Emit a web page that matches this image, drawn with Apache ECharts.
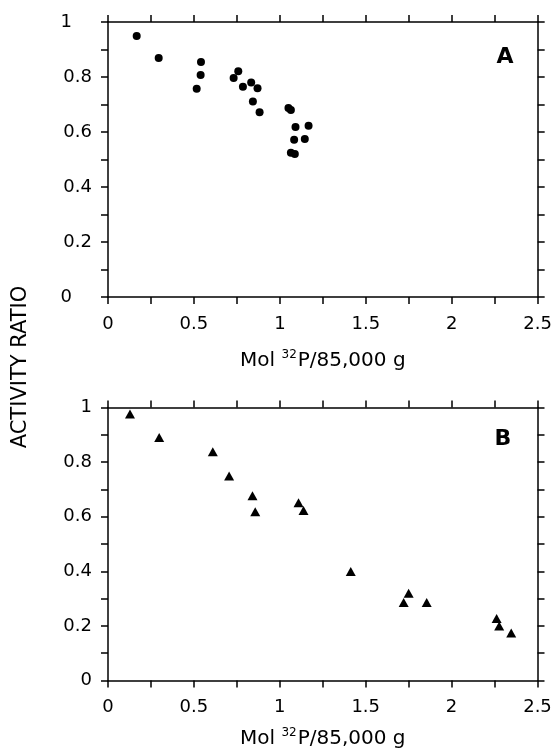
<!DOCTYPE html>
<html>
<head>
<meta charset="utf-8">
<title>Activity ratio vs Mol 32P</title>
<script src="https://cdn.jsdelivr.net/npm/echarts@6/dist/echarts.min.js"></script>
<style>
  html, body { margin: 0; padding: 0; background: #fff; }
  #main { width: 555px; height: 750px; }
</style>
</head>
<body>
<div id="main"></div>
<script>
// panel A (circles)
var circleX = [0.167, 0.295, 0.541, 0.539, 0.516, 0.758, 0.731, 0.785, 0.833, 0.870,
               0.843, 0.882, 1.050, 1.064, 1.091, 1.167, 1.083, 1.145, 1.064, 1.087];
var circleY = [0.949, 0.869, 0.855, 0.807, 0.757, 0.821, 0.796, 0.765, 0.780, 0.759,
               0.711, 0.672, 0.687, 0.680, 0.618, 0.623, 0.572, 0.575, 0.525, 0.520];
// panel B (triangles)
var triX = [0.128, 0.298, 0.610, 0.705, 0.841, 0.857, 1.109, 1.138, 1.413, 1.750,
            1.721, 1.855, 2.262, 2.277, 2.347];
var triY = [0.976, 0.890, 0.838, 0.749, 0.677, 0.618, 0.651, 0.623, 0.399, 0.320,
            0.286, 0.286, 0.227, 0.200, 0.174];

var xTicks = [0, 0.5, 1, 1.5, 2, 2.5];
var yTicks = [0, 0.2, 0.4, 0.6, 0.8, 1];
var panelLetters = ['A', 'B'];
var xTitle = ['Mol ', '32', 'P/85,000 g'];
var yTitle = 'ACTIVITY RATIO';

var FONT = 'DejaVu Sans';
var INK = '#000';

function pairs(xs, ys) {
    var out = [];
    for (var i = 0; i < xs.length; i++) out.push([xs[i], ys[i]]);
    return out;
}

var lineStyle = { color: INK, width: 1.5 };

function bottomAxis(grid, gap) {
    return {
        type: 'value', gridIndex: grid, position: 'bottom',
        min: xTicks[0], max: xTicks[xTicks.length - 1], interval: 0.5,
        axisLine: { show: true, onZero: false, lineStyle: lineStyle },
        axisTick: { show: true, inside: false, length: 7, lineStyle: lineStyle },
        minorTick: { show: true, splitNumber: 2, length: 7, lineStyle: lineStyle },
        splitLine: { show: false },
        axisLabel: { color: INK, fontFamily: FONT, fontSize: 18, margin: 18 },
        name: '{n|' + xTitle[0] + '}{s|' + xTitle[1] + '}{n|' + xTitle[2] + '}',
        nameLocation: 'middle', nameGap: gap,
        nameTextStyle: {
            rich: {
                n: { fontFamily: FONT, fontSize: 20, color: INK, verticalAlign: 'bottom', lineHeight: 22 },
                s: { fontFamily: FONT, fontSize: 12, color: INK, verticalAlign: 'top', lineHeight: 22, padding: [0, 1, 9, 0] }
            }
        }
    };
}

function topAxis(grid) {
    return {
        type: 'value', gridIndex: grid, position: 'top',
        min: xTicks[0], max: xTicks[xTicks.length - 1], interval: 0.5,
        axisLine: { show: true, onZero: false, lineStyle: lineStyle },
        axisTick: { show: true, inside: false, length: 7, lineStyle: lineStyle },
        minorTick: { show: true, splitNumber: 2, length: 7, lineStyle: lineStyle },
        splitLine: { show: false },
        axisLabel: { show: false }
    };
}

function leftAxis(grid, shiftEnds) {
    return {
        type: 'value', gridIndex: grid, position: 'left',
        min: yTicks[0], max: yTicks[yTicks.length - 1], interval: 0.2,
        axisLine: { show: true, onZero: false, lineStyle: lineStyle },
        axisTick: { show: true, inside: false, length: 7, lineStyle: lineStyle },
        minorTick: { show: true, splitNumber: 2, length: 7, lineStyle: lineStyle },
        splitLine: { show: false },
        axisLabel: {
            color: INK, fontFamily: FONT, fontSize: 18, margin: 16,
            formatter: function (v) {
                if (shiftEnds && (v === 0 || v === 1)) return '{off|' + v + '}';
                return String(v);
            },
            rich: { off: { fontFamily: FONT, fontSize: 18, color: INK, padding: [0, 20, 0, 0] } }
        }
    };
}

function rightAxis(grid) {
    return {
        type: 'value', gridIndex: grid, position: 'right',
        min: yTicks[0], max: yTicks[yTicks.length - 1], interval: 0.2,
        axisLine: { show: true, onZero: false, lineStyle: lineStyle },
        axisTick: { show: true, inside: false, length: 7, lineStyle: lineStyle },
        minorTick: { show: true, splitNumber: 2, length: 7, lineStyle: lineStyle },
        splitLine: { show: false },
        axisLabel: { show: false }
    };
}

var chart = echarts.init(document.getElementById('main'));
chart.setOption({
    backgroundColor: '#fff',
    animation: false,
    grid: [
        { left: 108, top: 22, width: 430, height: 275 },
        { left: 108, top: 407.5, width: 429.5, height: 273 }
    ],
    xAxis: [bottomAxis(0, 52), topAxis(0), bottomAxis(1, 46), topAxis(1)],
    yAxis: [leftAxis(0, true), rightAxis(0), leftAxis(1, false), rightAxis(1)],
    graphic: [
        {
            type: 'text', x: 21, y: 367, rotation: Math.PI / 2,
            style: { text: yTitle, fontFamily: FONT, fontSize: 21, fill: INK, align: 'center', verticalAlign: 'middle' }
        },
        {
            type: 'text', x: 505, y: 57,
            style: { text: panelLetters[0], fontFamily: FONT, fontWeight: 'bold', fontSize: 22, fill: INK, align: 'center', verticalAlign: 'middle' }
        },
        {
            type: 'text', x: 503, y: 439,
            style: { text: panelLetters[1], fontFamily: FONT, fontWeight: 'bold', fontSize: 22, fill: INK, align: 'center', verticalAlign: 'middle' }
        }
    ],
    series: [
        {
            type: 'scatter', xAxisIndex: 0, yAxisIndex: 0,
            symbol: 'circle', symbolSize: 8,
            itemStyle: { color: INK, opacity: 1 },
            data: pairs(circleX, circleY)
        },
        {
            type: 'scatter', xAxisIndex: 2, yAxisIndex: 2,
            symbol: 'triangle', symbolSize: [10, 9],
            itemStyle: { color: INK, opacity: 1 },
            data: pairs(triX, triY)
        }
    ]
});
</script>
</body>
</html>
